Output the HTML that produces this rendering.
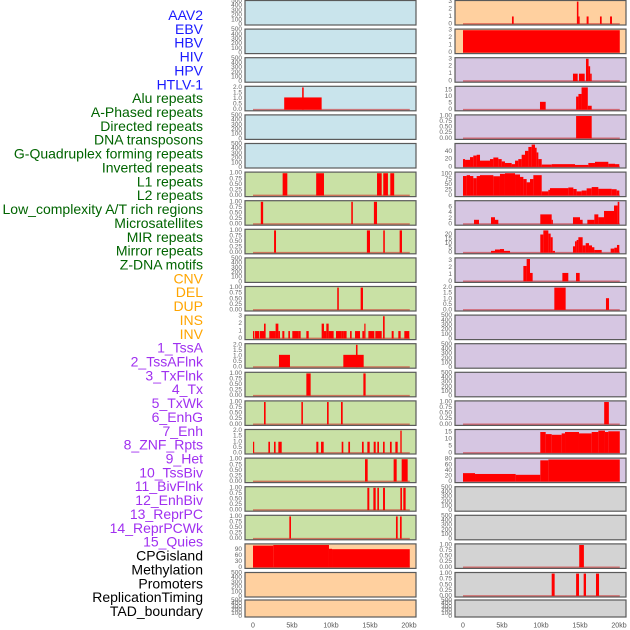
<!DOCTYPE html>
<html><head><meta charset="utf-8">
<style>
html,body{margin:0;padding:0;background:#fff;width:630px;height:630px;overflow:hidden}
svg{display:block;font-family:"Liberation Sans",sans-serif}
</style></head>
<body>
<svg id="chart" width="630" height="630" viewBox="0 0 630 630" xmlns="http://www.w3.org/2000/svg">
<g id="labels"></g>
<g id="panels"></g>
<g id="xaxis"></g>
</svg>
<script>
const trackLabels = ["AAV2","EBV","HBV","HIV","HPV","HTLV-1","Alu repeats","A-Phased repeats","Directed repeats","DNA transposons","G-Quadruplex forming repeats","Inverted repeats","L1 repeats","L2 repeats","Low_complexity A/T rich regions","Microsatellites","MIR repeats","Mirror repeats","Z-DNA motifs","CNV","DEL","DUP","INS","INV","1_TssA","2_TssAFlnk","3_TxFlnk","4_Tx","5_TxWk","6_EnhG","7_Enh","8_ZNF_Rpts","9_Het","10_TssBiv","11_BivFlnk","12_EnhBiv","13_ReprPC","14_ReprPCWk","15_Quies","CPGisland","Methylation","Promoters","ReplicationTiming","TAD_boundary"];
const labelGroups = [6,13,5,15,5];
const groupColors = ["#1a1aff","#006400","#ffa500","#a030f0","#000000"];
const xTickVals = [0,5,10,15,20];
const xTickLabels = ["0","5kb","10kb","15kb","20kb"];

const leftBg = ["b","b","b","b","b","b","g","g","g","g","g","g","g","g","g","g","g","g","g","o","o","o"];
const rightBg = ["o","o","p","p","p","p","p","p","p","p","p","p","p","p","p","p","p","y","y","y","y","y"];
const leftMax = [0,0,0,2,0,0,1,1,1,0,1,3,2,1,1,2,1,1,1,112,0,0];
const rightMax = [3,3,3,17,1,57,103,7.8,24.5,3.2,2,0,0,0,1,16,80,0,0,1,1,0];
const leftTicks = ["E","E","E","T2","E","E","T1","T1","T1","E","T1","T3","T2","T1","T1","T2","T1","T1","T1","T90","E","E"];
const rightTicks = ["T3","T3","T3","T15","T1","T40","T100","T6","T20","T3","T2","E","E","E","T1","T15","T80","E","E","T1","T1","E"];

// bars: [startKb, endKb, value]
const leftBars = [
 [],[],[],
 [[4.0,8.8,1.1],[6.3,6.5,2]],
 [],[],
 [[3.8,4.4,1],[8.1,9.1,1],[15.9,16.5,1],[16.7,17.3,1],[17.6,18.1,1]],
 [[1.0,1.3,1],[12.6,12.8,1],[15.5,15.9,1]],
 [[2.7,2.95,1],[14.6,15.0,1],[16.7,16.9,1],[18.8,19.1,1]],
 [],
 [[10.8,11.0,1],[13.8,14.1,1]],
 [[0,0.17,1],[0.26,0.77,1],[0.85,1.41,1],[1.41,1.62,2],[2.09,2.9,1],[2.9,3.25,2],[3.25,3.46,1],[3.76,4.02,1],[4.53,4.74,1],[5.04,5.81,1],[5.81,6.11,1],[6.84,7.14,1],[8.8,9.1,2],[9.1,9.4,1],[9.4,9.7,2],[9.7,10.34,1],[10.64,11.32,1],[11.32,11.62,1],[11.62,12.0,1],[12.44,12.65,1],[13.08,13.72,1],[14.02,14.27,1],[14.27,14.36,2],[14.79,15.56,1],[15.68,16.5,1],[16.67,16.88,3],[17.78,18.03,1],[18.63,18.93,1],[19.4,20.04,1]],
 [[3.33,4.74,1.1],[11.58,14.19,1.1],[13.2,13.4,2]],
 [[6.84,7.39,1],[14.15,14.44,1]],
 [[1.41,1.62,1],[6.2,6.4,1],[9.49,9.7,1],[11.28,11.5,1]],
 [[0,0.15,1],[1.97,2.18,1],[2.69,2.9,1],[3.25,3.68,1],[8.12,8.38,1],[8.72,9.06,1],[11.37,11.58,1],[12.22,12.44,1],[13.97,14.19,1],[14.66,14.96,1],[15.47,15.73,1],[15.94,16.15,1],[16.67,16.88,1],[17.56,17.78,1],[18.25,18.55,1],[18.89,19.06,2]],
 [[14.36,14.7,1],[18.03,18.42,1],[19.06,19.83,1]],
 [[14.66,14.91,1],[15.43,15.73,1],[15.94,16.15,1],[16.67,16.92,1],[18.89,19.1,1],[19.27,19.57,1]],
 [[4.66,4.87,1],[18.33,18.55,1],[18.85,19.06,1]],
 [[0,2.6,109],[2.6,9.74,112],[9.74,10.13,93],[10.13,20.1,91]],
 [],[]
];
const rightBars = [
 [[6.28,6.5,1],[14.6,14.8,3],[14.8,14.95,1],[15.85,16.1,1],[17.56,17.78,1],[18.85,19.1,1]],
 [[0,20.1,3]],
 [[14.1,14.7,1],[14.87,15.6,1],[15.77,16.1,3],[16.1,16.3,2],[16.3,16.5,1]],
 [[9.87,10.6,6],[14.5,14.8,10],[14.8,15.2,12],[15.2,16.0,17],[16.0,16.5,3]],
 [[14.5,16.5,1]],
 [[0,0.26,20],[0.26,0.9,18],[0.9,1.32,25],[1.32,1.75,29],[1.75,2.18,31],[2.18,3.46,16],[3.46,3.89,20],[3.89,4.53,24],[4.53,4.96,20],[4.96,5.38,14],[5.38,6.24,10],[6.24,6.67,7],[6.67,7.09,16],[7.09,7.52,20],[7.52,7.95,31],[7.95,8.38,41],[8.38,8.8,51],[8.8,9.23,57],[9.23,9.44,49],[9.44,9.66,37],[9.66,10.09,20],[10.09,11.37,6],[11.37,14.36,7],[14.36,16.07,5],[16.07,16.92,10],[16.92,18.63,13],[18.63,19.49,8],[19.49,20.04,7]],
 [[0,0.47,90],[0.47,0.9,94],[0.9,1.32,90],[1.32,1.75,80],[1.75,2.18,90],[2.18,3.89,94],[3.89,4.74,89],[4.74,5.38,100],[5.38,6.67,103],[6.67,7.31,97],[7.31,7.74,86],[7.74,8.16,76],[8.16,8.59,61],[8.59,9.02,76],[9.02,10.09,94],[10.09,10.94,19],[10.94,11.15,26],[11.15,13.5,34],[13.5,14.15,37],[14.15,14.57,30],[14.57,15.21,19],[15.21,15.85,23],[15.85,16.5,33],[16.5,17.35,39],[17.35,19.06,31],[19.06,19.7,29],[19.7,20.04,23]],
 [[1.41,2.05,1.5],[3.59,4.1,2.4],[4.1,4.53,1.5],[9.91,11.37,3.4],[11.37,11.5,1.5],[14.1,15.0,2.4],[15.0,15.34,1.5],[15.94,16.84,1.5],[16.84,17.35,3.4],[17.35,18.08,2.4],[18.08,19.36,4.6],[19.36,19.83,6.5],[19.83,20.04,7.8]],
 [[3.59,4.1,2],[4.1,4.74,3.5],[4.74,5.26,4],[5.26,6.03,2],[9.91,10.3,20],[10.3,10.94,24.5],[10.94,11.24,21],[11.24,11.5,17],[11.5,11.79,2],[14.1,14.36,7],[14.36,14.57,12.5],[14.57,14.79,14],[14.79,15.34,17],[15.34,15.73,8],[15.73,16.15,10.5],[16.15,16.54,8],[16.54,16.84,6],[16.84,17.78,3],[18.93,19.4,4.5],[19.4,19.74,5.5],[19.74,20.04,8.5]],
 [[7.74,8.16,2.2],[8.16,8.59,3.2],[8.59,8.93,1.2],[12.74,13.5,1.2],[14.49,14.96,1.2]],
 [[11.71,13.16,2.0],[18.33,18.72,1.05]],
 [],[],[],
 [[18.1,18.7,1]],
 [[9.91,10.6,15],[10.6,11.37,13.5],[11.37,12.65,13],[12.65,13.08,14],[13.08,14.87,15],[14.87,16.5,14],[16.5,17.35,15],[17.35,18.2,16],[18.2,18.63,15],[18.63,20.1,15.5]],
 [[0,1.54,30],[1.54,6.75,27],[6.75,9.91,24],[9.91,10.94,76],[10.94,20.1,79]],
 [],[],
 [[14.9,15.5,1]],
 [[11.37,11.75,1],[14.5,14.87,1],[15.47,15.77,1],[17.05,17.44,1]],
 []
];
const tickSets = {
 E:[[0,"0"],[100,"100"],[200,"200"],[300,"300"],[400,"400"],[500,"500"]],
 T1:[[0,"0.00"],[0.25,"0.25"],[0.5,"0.50"],[0.75,"0.75"],[1,"1.00"]],
 T2:[[0,"0.0"],[0.5,"0.5"],[1,"1.0"],[1.5,"1.5"],[2,"2.0"]],
 T3:[[0,"0"],[1,"1"],[2,"2"],[3,"3"]],
 T90:[[0,"0"],[30,"30"],[60,"60"],[90,"90"]],
 T15:[[0,"0"],[5,"5"],[10,"10"],[15,"15"]],
 T40:[[0,"0"],[20,"20"],[40,"40"]],
 T100:[[0,"0"],[25,"25"],[50,"50"],[75,"75"],[100,"100"]],
 T6:[[0,"0"],[2,"2"],[4,"4"],[6,"6"]],
 T20:[[0,"0"],[5,"5"],[10,"10"],[15,"15"],[20,"20"]],
 T80:[[0,"0"],[20,"20"],[40,"40"],[60,"60"],[80,"80"]]
};
const bgColors = {b:"#c9e4ec",g:"#c9e1a5",o:"#ffd09f",p:"#d6c6e2",y:"#d3d3d3"};

const NS = "http://www.w3.org/2000/svg";
function mk(tag, attrs, parent){
  const el = document.createElementNS(NS, tag);
  for (const k in attrs) el.setAttribute(k, attrs[k]);
  parent.appendChild(el);
  return el;
}
// labels
const lg = document.getElementById("labels");
let gi = 0, cnt = 0;
trackLabels.forEach((t, i) => {
  while (cnt >= labelGroups[gi]) { cnt = 0; gi++; }
  cnt++;
  const el = mk("text", {x:203, y:15 + i*13.86, "text-anchor":"end", "dominant-baseline":"central", "font-size":"14", fill:groupColors[gi]}, lg);
  
  
  el.textContent = t;
});

const cols = [
  {x0:245, x1:416, dx0:253, dx1:409, tickX:242, bg:leftBg, max:leftMax, ticks:leftTicks, bars:leftBars, side:"left"},
  {x0:455, x1:626, dx0:463, dx1:619, tickX:452, bg:rightBg, max:rightMax, ticks:rightTicks, bars:rightBars, side:"right"}
];
const pg = document.getElementById("panels");
cols.forEach(c => {
  const xs = kb => c.dx0 + (c.dx1 - c.dx0) * kb / 20;
  for (let i = 0; i < 22; i++) {
    const top = i < 21 ? 0.5 + i*28.6 : 600;
    const h = i < 21 ? 24.5 : 17;
    const g = mk("g", {}, pg);
    
    
    const empty = c.max[i] === 0;
    const M = empty ? 500 : c.max[i];
    const d0 = empty ? -12 : -0.05*M, d1 = empty ? 512 : 1.05*M;
    const ys = v => top + h - (v - d0) / (d1 - d0) * h;
    const bg = mk("rect", {x:c.x0, y:top, width:c.x1-c.x0, height:h, fill:bgColors[c.bg[i]]}, g);
    
    
    const clipId = "clip-" + c.side + i;
    const cp = mk("clipPath", {id:clipId}, g);
    mk("rect", {x:c.x0, y:top, width:c.x1-c.x0, height:h}, cp);
    const dg = mk("g", {"clip-path":"url(#"+clipId+")"}, g);
    if (!empty) {
      const base = mk("line", {x1:xs(0), x2:xs(20.1), y1:ys(0), y2:ys(0), stroke:"rgba(205,30,30,0.55)", "stroke-width":1.6}, dg);
      
      
    }
    c.bars[i].forEach(b => {
      const r = mk("rect", {x:xs(b[0]), y:ys(b[2]), width:Math.max(1.2, xs(b[1])-xs(b[0])), height:ys(0)-ys(b[2]), fill:"#ff0000"}, dg);
      
      
    });
    mk("rect", {x:c.x0, y:top, width:c.x1-c.x0, height:h, fill:"none", stroke:"#5a5a5a", "stroke-width":1.2}, g);
    tickSets[c.ticks[i]].forEach(tk => {
      const tl = mk("text", {x:c.tickX, y:ys(tk[0]), "text-anchor":"end", "dominant-baseline":"central", "font-size":"6.5", fill:"#666"}, g);
      
      
      tl.textContent = tk[1];
    });
  }
  const xa = document.getElementById("xaxis");
  xTickVals.forEach((v, k) => {
    const t = mk("text", {x:xs(v), y:626, "text-anchor":"middle", "dominant-baseline":"central", "font-size":"7", fill:"#555"}, xa);
    
    
    t.textContent = xTickLabels[k];
  });
});
</script>
</body></html>
